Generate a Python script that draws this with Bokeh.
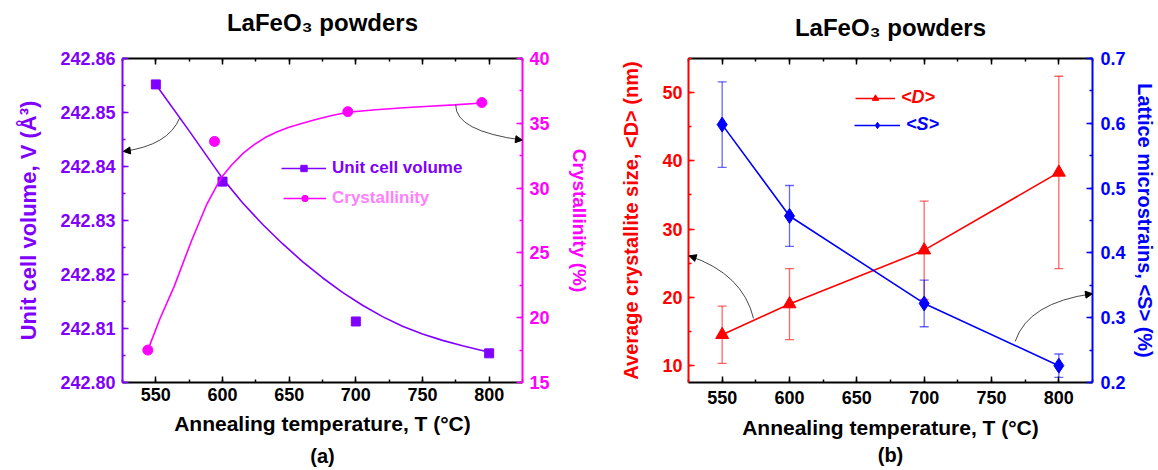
from bokeh.plotting import figure
from bokeh.models import (Range1d, LinearAxis, Legend, LegendItem, Whisker, ColumnDataSource,
                          Arrow, NormalHead, TeeHead, SingleIntervalTicker, FixedTicker,
                          PrintfTickFormatter, CustomJSTickFormatter)
from bokeh.layouts import row
from bokeh.embed import file_html
from bokeh.resources import INLINE

# ---------------- data ----------------
# panel (a)
T_vol = [550, 600, 700, 800]
vol = [242.8552, 242.8372, 242.8113, 242.8054]
vol_fit_T = [550, 575, 600, 615, 630, 645, 660, 675, 690, 705, 720, 735, 750, 765, 780, 800]
vol_fit = [242.8552, 242.8466, 242.8378, 242.8333, 242.8293, 242.8257, 242.8224, 242.8194,
           242.8167, 242.8143, 242.8122, 242.8104, 242.8090, 242.8078, 242.8068, 242.8056]
T_cry = [544, 594, 694, 794.5]
cry = [17.5, 33.6, 35.9, 36.6]
cry_fit_T = [544, 553, 563.7, 577, 588, 599, 607, 615.6, 623, 632, 641, 650, 660, 670,
             682, 694, 715, 736, 755, 774, 794.5]
cry_fit = [17.5, 19.9, 22.4, 26.0, 28.7, 30.8, 31.8, 32.7, 33.3, 33.9, 34.35, 34.7, 35.0, 35.3,
           35.6, 35.85, 36.05, 36.2, 36.32, 36.42, 36.57]

# panel (b)
T_b = [550, 600, 700, 800]
D = [14.5, 19.0, 26.9, 38.3]
D_err = [4.2, 5.2, 7.2, 14.1]
S = [0.598, 0.457, 0.322, 0.226]
S_err = [0.066, 0.047, 0.036, 0.018]

title_text = "LaFeO\u2083 powders"
x_label = "Annealing temperature, T (\u00b0C)"

# ---------------- style ----------------
FONT = "Liberation Sans"
PURPLE = "#8000FF"
MAGENTA = "#FF00FF"
PINK_TEXT = "#FF80FF"
RED = "#FF0000"
BLUE = "#0000FF"
BLACK = "#000000"
H = 470


def style_axis(ax, color, interval, label_size="20px"):
    ax.ticker = SingleIntervalTicker(interval=interval, num_minor_ticks=2)
    ax.axis_line_color = color
    ax.axis_line_width = 2
    ax.major_tick_line_color = color
    ax.minor_tick_line_color = color
    ax.major_tick_line_width = 1.5
    ax.minor_tick_line_width = 1.5
    ax.major_tick_in = 6
    ax.major_tick_out = 0
    ax.minor_tick_in = 3
    ax.minor_tick_out = 0
    ax.major_label_text_color = color
    ax.major_label_text_font = FONT
    ax.major_label_text_font_style = "bold"
    ax.major_label_text_font_size = "18px"
    ax.axis_label_text_color = color
    ax.axis_label_text_font = FONT
    ax.axis_label_text_font_style = "bold"
    ax.axis_label_text_font_size = label_size


def make_fig(width, mbl, mbr, mbt, mbb, y_range, tick_so, xlab_so, title_so, tag, tag_so):
    p = figure(width=width, height=H, x_range=Range1d(525, 825), y_range=y_range,
               output_backend="svg", toolbar_location=None,
               min_border_left=mbl, min_border_right=mbr,
               min_border_top=mbt, min_border_bottom=mbb)
    p.grid.visible = False
    p.outline_line_color = None
    p.background_fill_color = "white"
    p.border_fill_color = "white"
    # bottom axis
    xa = p.xaxis[0]
    style_axis(xa, BLACK, 50, label_size="21px")
    xa.axis_label = x_label
    xa.major_label_standoff = tick_so
    xa.axis_label_standoff = xlab_so
    # panel tag "(a)" / "(b)" as the label of a bare second bottom axis
    tag_ax = LinearAxis(ticker=FixedTicker(ticks=[]))
    tag_ax.axis_line_color = None
    tag_ax.major_tick_line_color = None
    tag_ax.minor_tick_line_color = None
    tag_ax.major_tick_out = 0
    tag_ax.major_tick_in = 0
    tag_ax.major_label_standoff = 0
    tag_ax.major_label_text_font_size = "0px"
    tag_ax.axis_label = tag
    tag_ax.axis_label_standoff = tag_so
    tag_ax.axis_label_text_font = FONT
    tag_ax.axis_label_text_font_style = "bold"
    tag_ax.axis_label_text_font_size = "20px"
    tag_ax.axis_label_text_color = BLACK
    p.add_layout(tag_ax, "below")
    # top axis: ticks only, its label is the title
    top = LinearAxis()
    style_axis(top, BLACK, 50, label_size="24px")
    top.formatter = CustomJSTickFormatter(code="return ''")
    top.major_label_text_font_size = "0px"
    top.major_label_standoff = 0
    top.axis_label = title_text
    top.axis_label_standoff = title_so
    p.add_layout(top, "above")
    return p


def add_arrow(p, x0, y0, cx, cy, x1, y1, y_range_name="default"):
    p.quadratic(x0=[x0], y0=[y0], x1=[x1], y1=[y1], cx=[cx], cy=[cy],
                line_color="#333333", line_width=0.9, y_range_name=y_range_name)
    p.add_layout(Arrow(end=NormalHead(size=7, fill_color="black", line_color="black"),
                       x_start=cx, y_start=cy, x_end=x1, y_end=y1,
                       line_alpha=0, y_range_name=y_range_name))


def make_legend(item, x, y, color, glyph_w, size, italic=False):
    lg = Legend(items=[item], location=(x, y))
    lg.border_line_color = None
    lg.background_fill_alpha = 0
    lg.padding = 0
    lg.margin = 0
    lg.spacing = 0
    lg.glyph_width = glyph_w
    lg.glyph_height = 16
    lg.label_height = 16
    lg.label_standoff = 6
    lg.label_text_font = FONT
    lg.label_text_font_style = "bold italic" if italic else "bold"
    lg.label_text_font_size = size
    lg.label_text_color = color
    return lg


# ---------------- panel (a) ----------------
p1 = make_fig(592, 122, 66, 54, 88, Range1d(242.80, 242.86),
              tick_so=5, xlab_so=8, title_so=23, tag="(a)", tag_so=7)
p1.extra_y_ranges = {"right": Range1d(15, 40)}
ya = p1.yaxis[0]
style_axis(ya, PURPLE, 0.01, label_size="22px")
ya.formatter = PrintfTickFormatter(format="%.2f")
ya.axis_label = "Unit cell volume, V (\u00c5\u00b3)"
ya.major_label_standoff = 7
ya.axis_label_standoff = 16
yr = LinearAxis(y_range_name="right")
style_axis(yr, MAGENTA, 5, label_size="19px")
yr.axis_label = "Crystallinity (%)"
yr.major_label_standoff = 7
yr.axis_label_standoff = 16
p1.add_layout(yr, "right")

l_vol = p1.line(vol_fit_T, vol_fit, line_color=PURPLE, line_width=1.6)
s_vol = p1.scatter(T_vol, vol, marker="square", size=9, color=PURPLE)
l_cry = p1.line(cry_fit_T, cry_fit, line_color=MAGENTA, line_width=1.6, y_range_name="right")
s_cry = p1.scatter(T_cry, cry, marker="circle", size=10, color=MAGENTA, y_range_name="right")

add_arrow(p1, 567.9, 242.8490, 559.5, 242.8439, 525.6, 242.8428)
add_arrow(p1, 774.9, 36.42, 774.6, 34.4, 825, 33.7, "right")

p1.add_layout(make_legend(LegendItem(label="Unit cell volume", renderers=[l_vol, s_vol]),
                          159, 204, PURPLE, 45, "17px"))
p1.add_layout(make_legend(LegendItem(label="Crystallinity", renderers=[l_cry, s_cry]),
                          161, 174, PINK_TEXT, 43, "17px"))

# ---------------- panel (b) ----------------
p2 = make_fig(566, 96, 63, 58, 86, Range1d(7.5, 55),
              tick_so=8, xlab_so=9, title_so=18, tag="(b)", tag_so=2)
p2.extra_y_ranges = {"right": Range1d(0.2, 0.70001)}
yl = p2.yaxis[0]
style_axis(yl, RED, 10)
yl.axis_label = "Average crystallite size, <D> (nm)"
yl.major_label_standoff = 6
yl.axis_label_standoff = 17
yr2 = LinearAxis(y_range_name="right")
style_axis(yr2, BLUE, 0.1)
yr2.axis_label = "Lattice microstrains, <S> (%)"
yr2.major_label_standoff = 8
yr2.axis_label_standoff = 5
p2.add_layout(yr2, "right")

srcD = ColumnDataSource(dict(x=T_b, lower=[d - e for d, e in zip(D, D_err)],
                             upper=[d + e for d, e in zip(D, D_err)]))
srcS = ColumnDataSource(dict(x=T_b, lower=[s - e for s, e in zip(S, S_err)],
                             upper=[s + e for s, e in zip(S, S_err)]))
for src, col, rn in ((srcD, RED, "default"), (srcS, BLUE, "right")):
    p2.add_layout(Whisker(source=src, base="x", lower="lower", upper="upper", y_range_name=rn,
                          line_color=col, line_alpha=0.6, line_width=1.3,
                          upper_head=TeeHead(size=9, line_color=col, line_alpha=0.6, line_width=1.3),
                          lower_head=TeeHead(size=9, line_color=col, line_alpha=0.6, line_width=1.3)))

l_D = p2.line(T_b, D, line_color=RED, line_width=1.6)
s_D = p2.scatter(T_b, D, marker="triangle", size=13, color=RED)
l_S = p2.line(T_b, S, line_color=BLUE, line_width=1.6, y_range_name="right")
s_S = p2.scatter(T_b, S, marker="diamond", size=15, color=BLUE, y_range_name="right")

add_arrow(p2, 573.3, 16.9, 565.3, 23.43, 525.5, 26.07)
add_arrow(p2, 767.6, 0.2635, 777.2, 0.3233, 825, 0.337, "right")

p2.add_layout(make_legend(LegendItem(label="<D>", renderers=[l_D, s_D]),
                          167, 274, RED, 40, "18px", italic=True))
p2.add_layout(make_legend(LegendItem(label="<S>", renderers=[l_S, s_S]),
                          166, 247, BLUE, 46, "18px", italic=True))

layout = row(p1, p2)
open("out.html", "w").write(file_html(layout, INLINE))
